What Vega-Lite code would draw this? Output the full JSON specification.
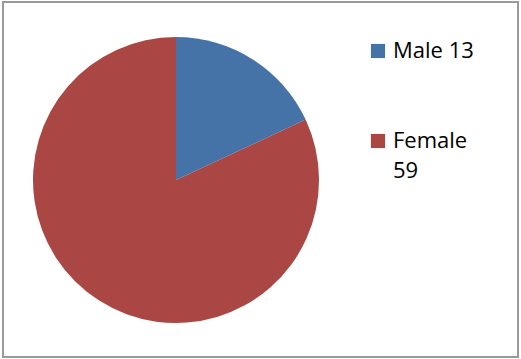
{
  "$schema": "https://vega.github.io/schema/vega-lite/v6.json",
  "width": 515,
  "height": 355,
  "autosize": "none",
  "padding": {"left": 3, "top": 2, "right": 3, "bottom": 2},
  "background": "white",
  "view": {"stroke": "#9a9a9a", "strokeWidth": 2, "fill": "white"},
  "data": {"values": [
    {"label": "Male 13", "value": 13, "order": 1},
    {"label": "Female 59", "value": 59, "order": 2}
  ]},
  "mark": {"type": "arc", "outerRadius": 143, "x": 173, "y": 178},
  "encoding": {
    "theta": {"field": "value", "type": "quantitative", "stack": true},
    "order": {"field": "order", "type": "quantitative"},
    "color": {
      "field": "label", "type": "nominal",
      "sort": ["Male 13", "Female 59"],
      "scale": {"domain": ["Male 13", "Female 59"], "range": ["#4572A7", "#AA4643"]},
      "legend": {
        "title": null,
        "orient": "none",
        "legendX": 364,
        "legendY": 38,
        "symbolType": "square",
        "symbolSize": 200,
        "symbolStrokeWidth": 0,
        "symbolOpacity": 1,
        "labelFont": "Open Sans",
        "labelFontSize": 22,
        "labelColor": "#000000",
        "labelOffset": 4,
        "labelBaseline": "middle",
        "rowPadding": 68,
        "labelLimit": 200,
        "labelExpr": "datum.value == 'Female 59' ? ['Female', '59'] : datum.label",
        "encode": {
          "labels": {"update": {
            "lineHeight": {"value": 30}
          }}
        }
      }
    }
  },
  "config": {
    "view": {"stroke": "#9a9a9a", "strokeWidth": 2}
  }
}
